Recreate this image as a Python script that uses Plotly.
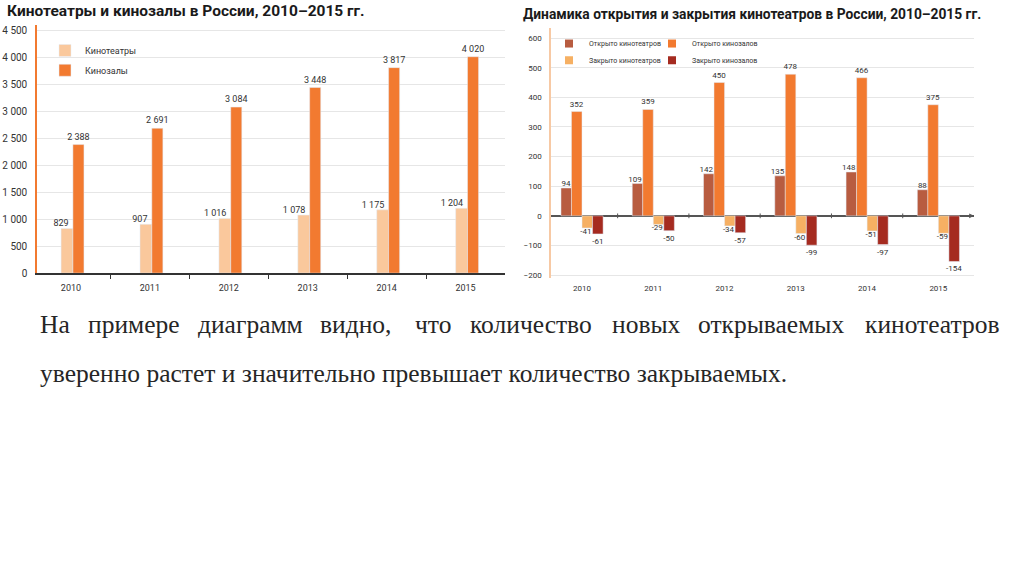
import plotly.graph_objects as go

W, H = 1024, 574

def px(x):
    return x / W

def py(y):
    return 1 - y / H

# ---------------- data ----------------
years = ["2010", "2011", "2012", "2013", "2014", "2015"]
cinemas = [829, 907, 1016, 1078, 1175, 1204]
halls = [2388, 2691, 3084, 3448, 3817, 4020]

opened_cinemas = [94, 109, 142, 135, 148, 88]
opened_halls = [352, 359, 450, 478, 466, 375]
closed_cinemas = [-41, -29, -34, -60, -51, -59]
closed_halls = [-61, -50, -57, -99, -97, -154]

left_title = "Кинотеатры и кинозалы в России, 2010–2015 гг."
right_title = "Динамика открытия и закрытия кинотеатров в России, 2010–2015 гг."
line1_words = ["На", "примере", "диаграмм", "видно,", "что", "количество",
               "новых", "открываемых", "кинотеатров"]
line2 = "уверенно растет и значительно превышает количество закрываемых."

# ---------------- styles ----------------
C_LIGHT = "#FAC89C"
C_ORANGE = "#F27A30"
C_BROWN = "#B85C40"
C_LORANGE = "#F6B063"
C_DRED = "#A52B20"
FONT = "Roboto"
TXT = "#333333"

idx = list(range(len(years)))

def fmt(v):
    return f"{v:,}".replace(",", " ")

fig = go.Figure()

# ---- Left chart ----
# (name, values, colour, legend, offset, width, label mode)
left_series = [
    ("Кинотеатры", cinemas, C_LIGHT, "legend", -0.125, 0.15, "left"),
    ("Кинозалы", halls, C_ORANGE, "legend2", 0.025, 0.14, "center"),
]
for name, vals, col, lg, off, wd, lab in left_series:
    fig.add_trace(go.Bar(x=idx, y=vals, name=name, marker_color=col,
                         offset=off, width=wd,
                         text=[fmt(v) for v in vals] if lab == "center" else None,
                         textposition="outside",
                         constraintext="none", cliponaxis=False,
                         textfont=dict(size=9, color=TXT, family=FONT),
                         xaxis="x", yaxis="y", legend=lg))
    if lab == "left":
        fig.add_trace(go.Scatter(x=[i + off + wd / 2 + 0.02 for i in idx], y=vals,
                                 mode="text", text=[fmt(v) for v in vals],
                                 textposition="top left", cliponaxis=False,
                                 textfont=dict(size=9, color=TXT, family=FONT),
                                 xaxis="x", yaxis="y", showlegend=False))

# ---- Right chart ----
right_series = [
    ("Открыто кинотеатров", opened_cinemas, C_BROWN, "legend3", -0.295, "left"),
    ("Открыто кинозалов", opened_halls, C_ORANGE, "legend4", -0.148, "center"),
    ("Закрыто кинотеатров", closed_cinemas, C_LORANGE, "legend5", 0.0, "left"),
    ("Закрыто кинозалов", closed_halls, C_DRED, "legend6", 0.148, "center"),
]
RW = 0.148
for name, vals, col, lg, off, lab in right_series:
    fig.add_trace(go.Bar(x=idx, y=vals, name=name, marker_color=col,
                         offset=off, width=RW,
                         text=[str(v) for v in vals] if lab == "center" else None,
                         textposition="outside",
                         constraintext="none", cliponaxis=False,
                         textfont=dict(size=8, color=TXT, family=FONT),
                         xaxis="x2", yaxis="y2", showlegend=False))
    if lab == "left":
        fig.add_trace(go.Scatter(x=[i + off + RW / 2 + 0.06 for i in idx], y=vals,
                                 mode="text", text=[str(v) for v in vals],
                                 textposition=["top left" if v >= 0 else "bottom left" for v in vals],
                                 cliponaxis=False,
                                 textfont=dict(size=8, color=TXT, family=FONT),
                                 xaxis="x2", yaxis="y2", showlegend=False))
    fig.add_trace(go.Scatter(x=[None], y=[None], name=name, mode="markers",
                             marker=dict(symbol="square", size=8, color=col),
                             xaxis="x2", yaxis="y2", legend=lg))

def legend_at(x, y, size):
    return dict(x=px(x), y=py(y), xanchor="left", yanchor="middle",
                bgcolor="rgba(0,0,0,0)", font=dict(size=size, color=TXT, family=FONT),
                itemclick=False, itemdoubleclick=False)

fig.update_layout(
    width=W, height=H,
    margin=dict(l=0, r=0, t=0, b=0),
    paper_bgcolor="white", plot_bgcolor="white",
    font=dict(family=FONT, color=TXT),
    separators=", ",
    hovermode=False,
    legend=legend_at(45, 51, 9),
    legend2=legend_at(45, 71, 9),
    legend3=legend_at(549, 44, 7),
    legend4=legend_at(652, 44, 7),
    legend5=legend_at(549, 61, 7),
    legend6=legend_at(652, 61, 7),
    xaxis=dict(domain=[px(37), px(505)], range=[-0.43, 5.5],
               tickmode="array", tickvals=idx, ticktext=years, ticks="",
               showline=True, linecolor="#333333", linewidth=1.5,
               minor=dict(tickmode="array", tickvals=[i + 0.5 for i in idx[:-1]],
                          ticks="outside", ticklen=4, tickcolor="#333333", showgrid=False),
               tickfont=dict(size=9, color=TXT), ticklabelstandoff=5,
               showgrid=False, zeroline=False, fixedrange=True),
    yaxis=dict(domain=[py(276), py(25)], range=[0, 4614], dtick=500,
               tickformat=",d", showline=True, linecolor=C_ORANGE, linewidth=1.5,
               gridcolor="#E6E6E6", gridwidth=1, zeroline=False,
               tickfont=dict(size=10, color=TXT), ticklabelstandoff=6, fixedrange=True),
    xaxis2=dict(domain=[px(551), px(974)], range=[-0.435, 5.5],
                tickmode="array", tickvals=idx, ticktext=years, ticks="",
                anchor="y2", showline=False, showgrid=False, zeroline=False,
                tickfont=dict(size=8, color=TXT), ticklabelstandoff=4, fixedrange=True),
    yaxis2=dict(domain=[py(281), py(28)], range=[-210, 635], dtick=100,
                anchor="x2", showline=True, linecolor="#F7C9A4", linewidth=1.5,
                gridcolor="#E6E6E6", gridwidth=1,
                zeroline=True, zerolinecolor="#555555", zerolinewidth=1.5,
                tickfont=dict(size=8, color=TXT), ticklabelstandoff=6, fixedrange=True),
)

annotations = [
    dict(text=f"<b>{left_title}</b>", x=px(5), y=py(11), xref="paper", yref="paper",
         xanchor="left", yanchor="middle", showarrow=False,
         font=dict(size=15.5, color="#1a1a1a", family=FONT)),
    dict(text=f"<b>{right_title}</b>", x=px(521), y=py(14), xref="paper", yref="paper",
         xanchor="left", yanchor="middle", showarrow=False,
         font=dict(size=13.8, color="#1a1a1a", family=FONT)),
    # arrow head at the end of the zero line of the right chart
    dict(text="", x=5.5, y=0, xref="x2", yref="y2", ax=-7, ay=0,
         showarrow=True, arrowhead=2, arrowsize=0.8, arrowwidth=1.2,
         arrowcolor="#555555"),
]
word_x = [40, 88, 198, 320, 415, 470, 612, 698, 865]
SERIF = dict(size=25.5, color="#262626", family="Liberation Serif")
for w, x in zip(line1_words, word_x):
    annotations.append(dict(text=w, x=px(x - 2), y=py(328), xref="paper", yref="paper",
                            xanchor="left", yanchor="middle", showarrow=False,
                            font=SERIF))
annotations.append(dict(text=line2, x=px(38), y=py(377), xref="paper", yref="paper",
                        xanchor="left", yanchor="middle", showarrow=False,
                        font=SERIF))
fig.update_layout(annotations=annotations)

# tick marks on the zero line of the right chart (category boundaries)
shapes = []
for i in idx[:-1]:
    shapes.append(dict(type="line", xref="x2", yref="y2", x0=i + 0.5, x1=i + 0.5,
                       y0=-8, y1=8, line=dict(color="#555555", width=1)))
fig.update_layout(shapes=shapes)

fig.write_html("out.html", config={"displayModeBar": False},
               post_script="document.body.style.margin='0px';")
